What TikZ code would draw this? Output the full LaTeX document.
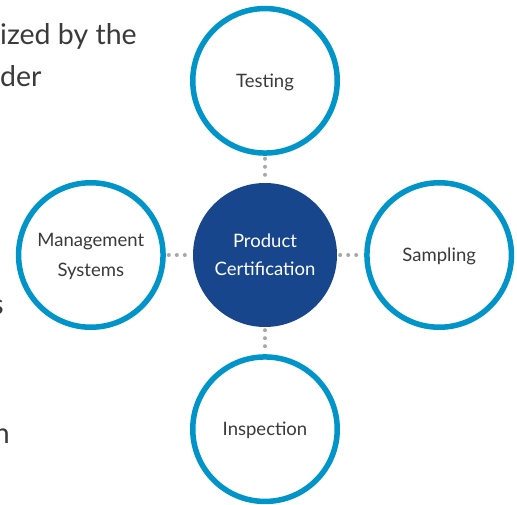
\documentclass[tikz,border=0pt]{standalone}
\usepackage{fontspec}
\setmainfont{Lato}
\usetikzlibrary{positioning}
\definecolor{ringblue}{HTML}{0094C9}
\definecolor{certblue}{HTML}{18468C}
\definecolor{dotgray}{HTML}{A8A8A8}
\definecolor{textgray}{HTML}{3A3A3A}

\begin{document}
\begin{tikzpicture}[x=1pt, y=1pt, node distance=27pt,
  ring/.style={circle, draw=ringblue, line width=5.5pt, fill=white, minimum size=144.5pt, inner sep=0pt, align=center, text depth=0pt, text=textgray, font=\fontsize{18.5}{28}\selectfont},
  hub/.style={circle, fill=certblue, minimum size=144pt, inner sep=0pt, align=center, text=white, font=\fontsize{18.5}{28}\selectfont},
  link/.style={dotgray, line width=4pt, line cap=round, dash pattern=on 0pt off 8pt, shorten <=3pt, shorten >=3pt},
  cut/.style={text=textgray, font=\fontsize{28.5}{42}\selectfont, inner sep=0pt}]
\useasboundingbox (0,0) rectangle (517,504);
\clip (0,0) rectangle (517,504);

% text cut off at the left edge
\node (introa) [cut, anchor=base west] at (0,459) {ized by the};
\node (introb) [cut, anchor=base west] at (0,417) {der};
\node (introc) [cut, anchor=base east] at (4,189) {s};
\node (introd) [cut, anchor=base east] at (10,61) {n};

\node (cert) [hub] at (265,249) {Product\\Certification};
\node (testing) [ring, above=of cert] {Testing};
\node (inspection) [ring, below=of cert] {Inspection};
\node (mgmt) [ring, left=of cert] {Management\\[2pt]Systems};
\node (sampling) [ring, right=of cert] {Sampling};

\draw[link] (testing) -- (cert);
\draw[link] (cert) -- (inspection);
\draw[link] (mgmt) -- (cert);
\draw[link] (cert) -- (sampling);
\end{tikzpicture}
\end{document}
